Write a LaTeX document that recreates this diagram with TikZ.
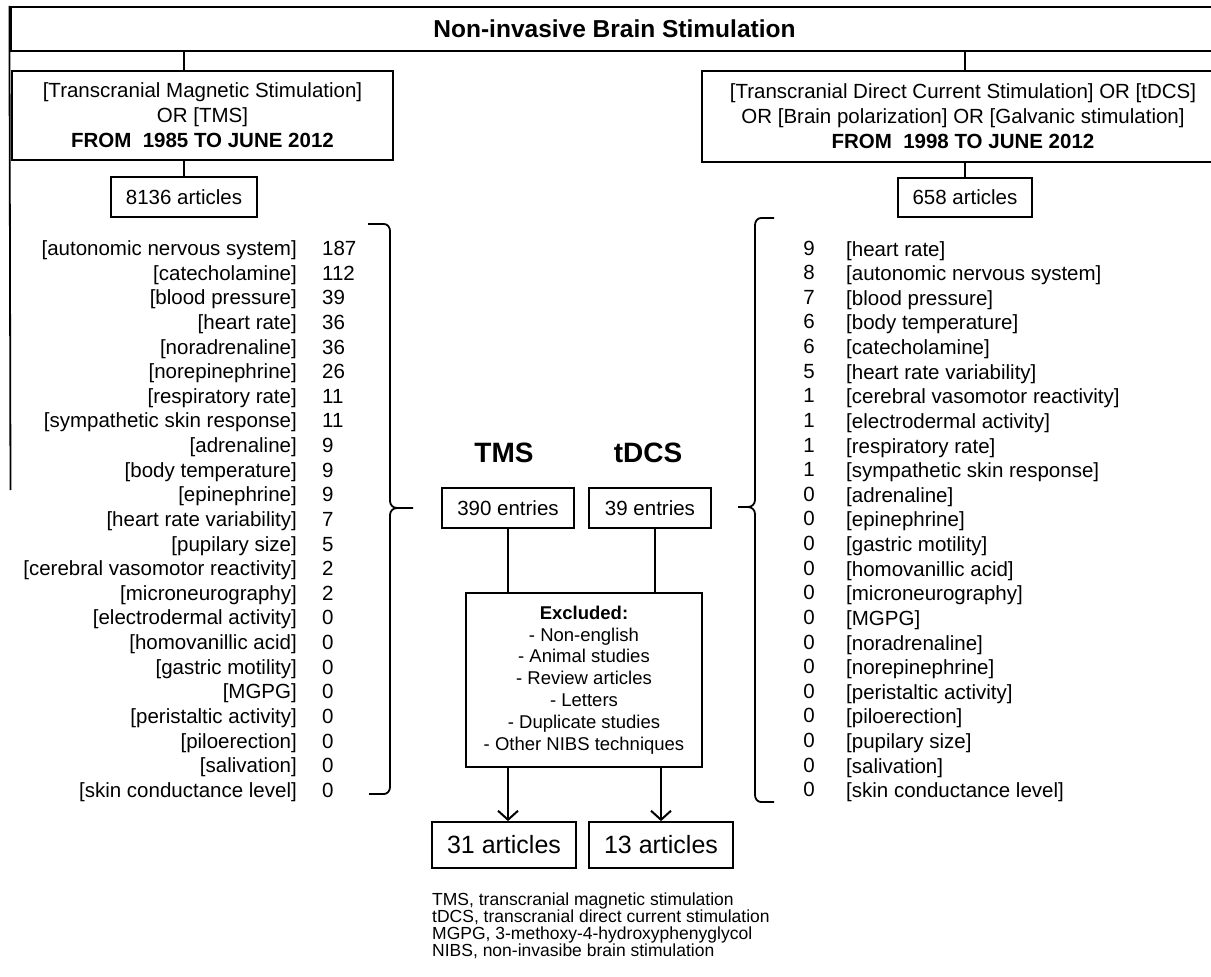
\documentclass[tikz,border=0pt]{standalone}
\usepackage{fontspec}
\setmainfont{Liberation Sans}
\usetikzlibrary{arrows.meta}
\begin{document}
\begin{tikzpicture}[x=1pt,y=-1pt,
  box/.style={draw,line width=1.8pt,inner sep=0pt,align=center,font=\fontsize{20.5}{25}\selectfont},
  conn/.style={line width=1.8pt},
  lst/.style={inner sep=0pt,font=\fontsize{20.5}{24}\selectfont},
  arr/.style={line width=1.8pt,-{Straight Barb[length=9pt,width=20pt,line width=2pt]}},
  head/.style={inner sep=0pt,font=\fontsize{28}{30}\selectfont\bfseries}]
\useasboundingbox (0,0) rectangle (1211,977);
\fill[white] (0,0) rectangle (1211,977);
\clip (0,0) rectangle (1211,977);

% title
\node[box,line width=2.2pt,minimum width=1208pt,minimum height=44pt,font=\fontsize{24.5}{28}\selectfont\bfseries] (title) at (614.5,29) {Non-invasive Brain Stimulation};
\coordinate (lineend) at (10.5,490);
\draw[conn] (title.north west) -- (lineend);

% search boxes
\node[box,minimum width=381pt,minimum height=89pt] (tms) at (202.5,115.5)
  {[Transcranial Magnetic Stimulation]\\OR [TMS]\\\textbf{FROM\hspace{0.55em}1985 TO JUNE 2012}};
\node[box,minimum width=522pt,minimum height=91pt] (tdcs) at (963,116.5)
  {[Transcranial Direct Current Stimulation] OR [tDCS]\\OR [Brain polarization] OR [Galvanic stimulation]\\\textbf{FROM\hspace{0.55em}1998 TO JUNE 2012}};

\node[box,minimum width=146pt,minimum height=40pt] (n8136) at (184,197) {8136 articles};
\node[box,minimum width=134pt,minimum height=39pt] (n658) at (965,197.5) {658 articles};

\draw[conn] (title.south -| n8136) -- (tms.north -| n8136);
\draw[conn] (tms.south -| n8136) -- (n8136.north);
\draw[conn] (title.south -| n658) -- (tdcs.north -| n658);
\draw[conn] (tdcs.south -| n658) -- (n658.north);

% left list
\foreach \lab/\num [count=\i] in {autonomic nervous system/187, catecholamine/112, blood pressure/39, heart rate/36, noradrenaline/36, norepinephrine/26, respiratory rate/11, sympathetic skin response/11, adrenaline/9, body temperature/9, epinephrine/9, heart rate variability/7, pupilary size/5, cerebral vasomotor reactivity/2, microneurography/2, electrodermal activity/0, homovanillic acid/0, gastric motility/0, MGPG/0, peristaltic activity/0, piloerection/0, salivation/0, skin conductance level/0}{
  \node[lst,anchor=base east] (ll\i) at (297,{255.5+24.63*(\i-1)}) {[\lab]};
  \node[lst,anchor=base west] (ln\i) at (322,{255.5+24.63*(\i-1)}) {\num};
}

% right list
\foreach \lab/\num [count=\i] in {heart rate/9, autonomic nervous system/8, blood pressure/7, body temperature/6, catecholamine/6, heart rate variability/5, cerebral vasomotor reactivity/1, electrodermal activity/1, respiratory rate/1, sympathetic skin response/1, adrenaline/0, epinephrine/0, gastric motility/0, homovanillic acid/0, microneurography/0, MGPG/0, noradrenaline/0, norepinephrine/0, peristaltic activity/0, piloerection/0, pupilary size/0, salivation/0, skin conductance level/0}{
  \node[lst,anchor=base] (rn\i) at (809,{255+24.63*(\i-1)}) {\num};
  \node[lst,anchor=base west] (rl\i) at (846,{256+24.63*(\i-1)}) {[\lab]};
}

% braces
\draw[conn] (368,224) -- (384,224) to[out=0,in=90] (390,231) -- (390,501) to[out=-90,in=180] (397,508) -- (413,508);
\draw[conn] (397,508) to[out=180,in=90] (390,515) -- (390,787) to[out=-90,in=0] (384,794) -- (369,794);
\draw[conn] (774,218) -- (761,218) to[out=180,in=90] (755,225) -- (755,500) to[out=-90,in=0] (748,507) -- (738,507);
\draw[conn] (748,507) to[out=0,in=90] (755,514) -- (755,795) to[out=-90,in=180] (761,802) -- (774,802);

% centre
\node[head] (htms) at (504,453) {TMS};
\node[head] (htdcs) at (648,453) {tDCS};
\node[box,minimum width=132pt,minimum height=40pt] (e390) at (508,508) {390 entries};
\node[box,minimum width=122pt,minimum height=40pt] (e39) at (650,508) {39 entries};
\node[box,minimum width=236pt,minimum height=174pt,font=\fontsize{18.5}{21.8}\selectfont] (excl) at (584,680)
  {\textbf{Excluded:}\\- Non-english\\- Animal studies\\- Review articles\\- Letters\\- Duplicate studies\\- Other NIBS techniques};
\node[box,minimum width=144pt,minimum height=46pt,font=\fontsize{25}{28}\selectfont] (a31) at (504,845) {31 articles};
\node[box,minimum width=144pt,minimum height=46pt,font=\fontsize{25}{28}\selectfont] (a13) at (661,845) {13 articles};

\draw[conn] (e390.south) -- (e390.south |- excl.north);
\draw[conn] ([xshift=5pt]e39.south) -- ([xshift=5pt]e39.south |- excl.north);
\draw[arr] (excl.south -| e390) -- (e390 |- a31.north);
\draw[arr] (excl.south -| a13) -- (a13.north);

% footnote
\node[anchor=north west,inner sep=0pt,align=left,font=\fontsize{17.5}{16.8}\selectfont] (foot) at (432,893)
  {TMS, transcranial magnetic stimulation\\tDCS, transcranial direct current stimulation\\MGPG, 3-methoxy-4-hydroxyphenyglycol\\NIBS, non-invasibe brain stimulation};
\end{tikzpicture}
\end{document}
